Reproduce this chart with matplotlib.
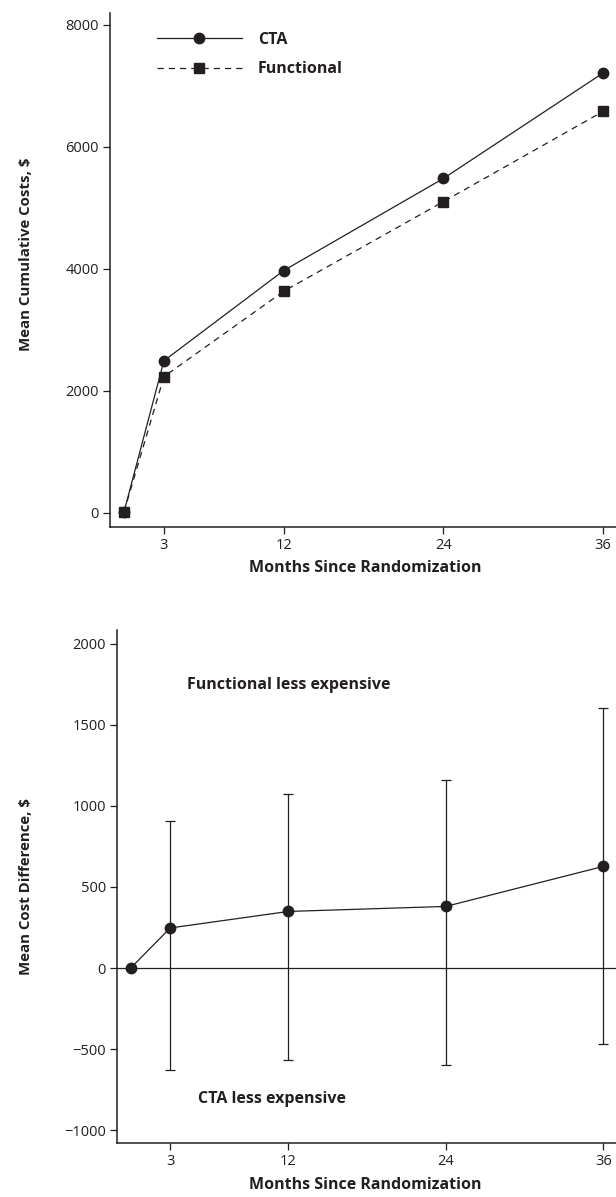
import matplotlib
matplotlib.use('Agg')
import matplotlib.pyplot as plt

plt.rcParams['font.family'] = ['Open Sans', 'DejaVu Sans']

INK = '#231f20'

# top panel: mean cumulative costs
months = [0, 3, 12, 24, 36]
ctaCost = [10, 2490, 3970, 5480, 7210]
functionalCost = [10, 2230, 3630, 5100, 6580]

# bottom panel: mean cost difference with 95% interval
diffMean = [0, 247, 349, 380, 627]
diffUpper = [0, 905, 1072, 1162, 1605]
diffLower = [0, -632, -566, -601, -467]

xTicks = [3, 12, 24, 36]
topYTicks = [0, 2000, 4000, 6000, 8000]
bottomYTicks = [-1000, -500, 0, 500, 1000, 1500, 2000]

LABEL_FS = 11.5
YLABEL_FS = 10.8
TICK_FS = 10.5


def styleAxes(ax):
    for s in ['top', 'right']:
        ax.spines[s].set_visible(False)
    for s in ['left', 'bottom']:
        ax.spines[s].set_color(INK)
        ax.spines[s].set_linewidth(1.1)
    ax.tick_params(direction='out', length=5, width=0.9, color=INK,
                   labelcolor=INK, labelsize=TICK_FS, pad=3)
    ax.set_xticks(xTicks)
    ax.set_xlim(-1.05, 36.97)


fig = plt.figure(figsize=(6.16, 11.97), dpi=100)
W, H = 616, 1197

# ---------------- top ----------------
ax1 = fig.add_axes([110 / W, 1 - 527 / H, 506 / W, 514 / H])
styleAxes(ax1)
ax1.plot(months, ctaCost, color=INK, lw=0.9, marker='o', ms=7.5, label='CTA')
ax1.plot(months, functionalCost, color=INK, lw=0.9, ls=(0, (5, 4)),
         marker='s', ms=7.5, label='Functional')
ax1.set_ylim(-236, 8194)
ax1.set_yticks(topYTicks)
ax1.set_ylabel('Mean Cumulative Costs, $', fontsize=YLABEL_FS, fontweight='bold', color=INK)
ax1.yaxis.set_label_coords(-0.153, 0.531)
ax1.set_xlabel('Months Since Randomization', fontsize=LABEL_FS, fontweight='bold', color=INK)
ax1.xaxis.set_label_coords(0.504, -0.064)
leg = ax1.legend(loc='upper left', bbox_to_anchor=(0.093, 0.964), frameon=False,
                 borderaxespad=0, borderpad=0, handlelength=5.3, handletextpad=1.0,
                 labelspacing=0.87, prop={'weight': 'bold', 'size': LABEL_FS})
for t in leg.get_texts():
    t.set_color(INK)

# ---------------- bottom ----------------
ax2 = fig.add_axes([117 / W, 1 - 1143 / H, 499 / W, 513 / H])
styleAxes(ax2)
ax2.axhline(0, color=INK, lw=0.9)
errLow = [m - lo for m, lo in zip(diffMean, diffLower)]
errHigh = [hi - m for m, hi in zip(diffMean, diffUpper)]
ax2.errorbar(months[1:], diffMean[1:], yerr=[errLow[1:], errHigh[1:]], fmt='none',
             ecolor=INK, elinewidth=0.9, capsize=3.5, capthick=0.9)
ax2.plot(months, diffMean, color=INK, lw=0.9, marker='o', ms=7.5)
ax2.set_ylim(-1080, 2086)
ax2.set_yticks(bottomYTicks)
ax2.set_yticklabels(['\u22121000', '\u2212500', '0', '500', '1000', '1500', '2000'])
ax2.set_ylabel('Mean Cost Difference, $', fontsize=YLABEL_FS, fontweight='bold', color=INK)
ax2.yaxis.set_label_coords(-0.168, 0.5)
ax2.set_xlabel('Months Since Randomization', fontsize=LABEL_FS, fontweight='bold', color=INK)
ax2.xaxis.set_label_coords(0.497, -0.066)
ax2.text(4.3, 1747, 'Functional less expensive', fontsize=LABEL_FS, fontweight='bold',
         color=INK, va='center', ha='left')
ax2.text(5.1, -809, 'CTA less expensive', fontsize=LABEL_FS, fontweight='bold',
         color=INK, va='center', ha='left')

fig.savefig('out.png', dpi=100)
